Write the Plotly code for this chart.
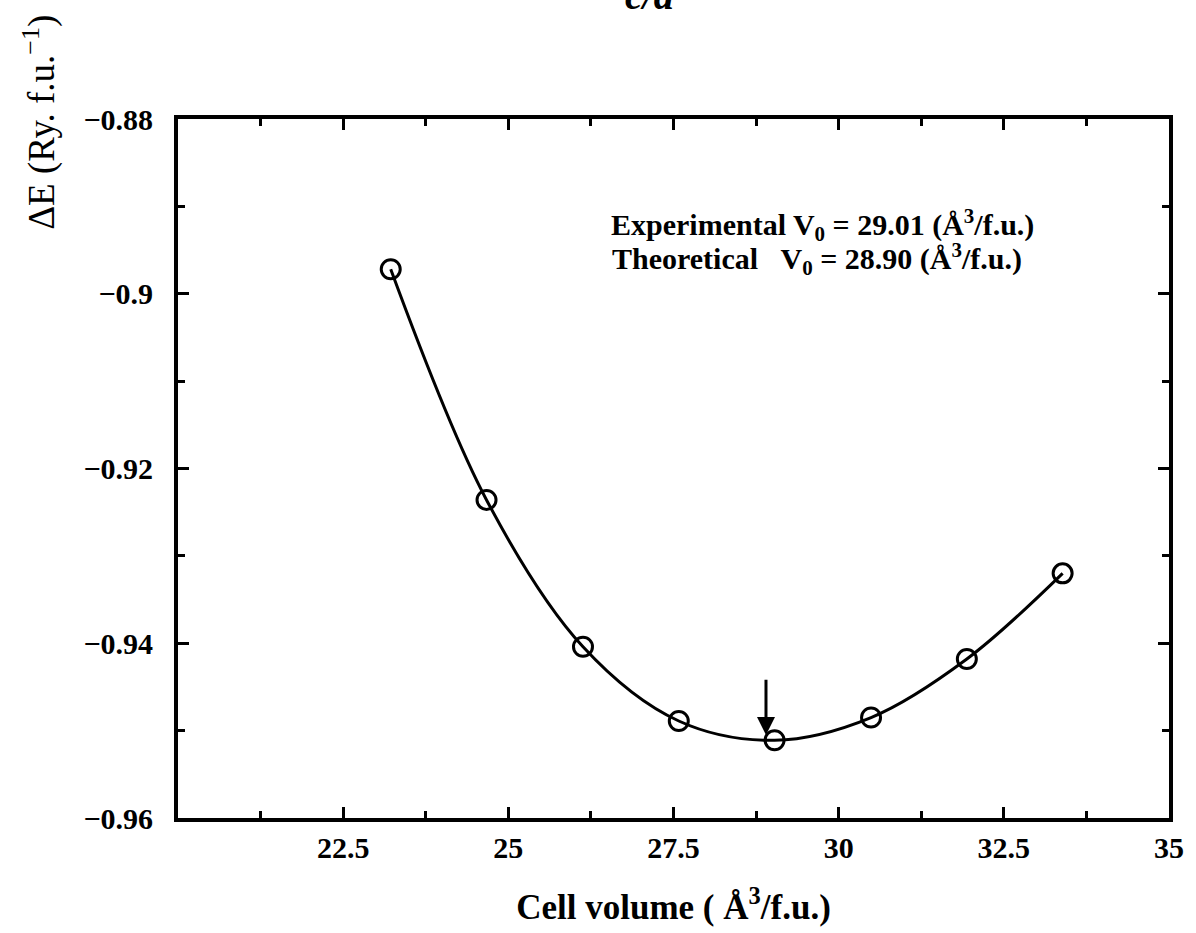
import plotly.graph_objects as go

# Total energy vs. cell volume
volume = [23.22, 24.67, 26.13, 27.58, 29.03, 30.49, 31.94, 33.39]
energy = [-0.8972, -0.9236, -0.9404, -0.9489, -0.9511, -0.9485, -0.9418, -0.9320]

v0_exp = 29.01
v0_theo = 28.90

x_ticks = [22.5, 25, 27.5, 30, 32.5, 35]
x_ticktext = ["22.5", "25", "27.5", "30", "32.5", "35"]
y_ticks = [-0.88, -0.9, -0.92, -0.94, -0.96]
y_ticktext = ["\u22120.88", "\u22120.9", "\u22120.92", "\u22120.94", "\u22120.96"]

FONT = "Liberation Serif"

fig = go.Figure()

# smooth fitted curve through the computed energies
fig.add_trace(go.Scatter(
    x=volume, y=energy, mode="lines",
    line=dict(color="black", width=3, shape="spline", smoothing=1.0),
    hoverinfo="skip", showlegend=False,
))
fig.add_trace(go.Scatter(
    x=volume, y=energy, mode="markers",
    marker=dict(symbol="circle-open", size=19, color="black",
                line=dict(color="black", width=3)),
    showlegend=False,
))

axis_common = dict(
    showline=True, linecolor="black", linewidth=4, mirror="ticks",
    ticks="inside", ticklen=11, tickwidth=3, tickcolor="black",
    showgrid=False, zeroline=False,
    tickfont=dict(family=FONT, size=30, color="black", weight="bold"),
)

fig.update_xaxes(
    range=[20, 35], tickmode="array", tickvals=x_ticks, ticktext=x_ticktext,
    minor=dict(dtick=1.25, tick0=20, ticks="inside", ticklen=7, tickwidth=3,
               tickcolor="black", showgrid=False),
    title=dict(text="<b>Cell volume ( \u00c5<sup>3</sup>/f.u.)</b>",
               font=dict(family=FONT, size=35, color="black"), standoff=32),
    **axis_common,
)
fig.update_yaxes(
    range=[-0.96, -0.88], tickmode="array", tickvals=y_ticks, ticktext=y_ticktext,
    ticklabelstandoff=15,
    minor=dict(dtick=0.01, tick0=-0.96, ticks="inside", ticklen=7, tickwidth=3,
               tickcolor="black", showgrid=False),
    **axis_common,
)

annotations = [
    # y-axis label
    dict(text="\u0394E (Ry. f.u.<sup>\u22121</sup>)", textangle=-90,
         xref="paper", yref="paper", x=-0.139, y=0.995, xanchor="center", yanchor="middle",
         showarrow=False, font=dict(family=FONT, size=37, color="black")),
    # panel title
    dict(text="<b><i>c/a</i></b>", xref="paper", yref="paper", x=0.476, y=1.142,
         xanchor="center", yanchor="bottom", showarrow=False,
         font=dict(family=FONT, size=40, color="black")),
    dict(text="<b>Experimental V<sub>0</sub> = %.2f (\u00c5<sup>3</sup>/f.u.)</b>" % v0_exp,
         xref="paper", yref="paper", x=0.650, y=0.848, xanchor="center", yanchor="middle",
         height=32, valign="middle",
         showarrow=False, font=dict(family=FONT, size=30, color="black")),
    dict(text="<b>Theoretical\u00a0\u00a0\u00a0V<sub>0</sub> = %.2f (\u00c5<sup>3</sup>/f.u.)</b>" % v0_theo,
         xref="paper", yref="paper", x=0.645, y=0.800, xanchor="center", yanchor="middle",
         height=32, valign="middle",
         showarrow=False, font=dict(family=FONT, size=30, color="black")),
    # arrow at the theoretical equilibrium volume
    dict(x=v0_theo, y=-0.9505, ax=v0_theo, ay=-0.9440, xref="x", yref="y",
         axref="x", ayref="y", text="", showarrow=True, arrowhead=2,
         arrowsize=1.2, arrowwidth=3, arrowcolor="black"),
]

fig.update_layout(
    width=1196, height=933,
    margin=dict(l=178, r=20, t=119, b=108),
    plot_bgcolor="white", paper_bgcolor="white",
    annotations=annotations,
    showlegend=False,
)

fig.write_html("out.html")
